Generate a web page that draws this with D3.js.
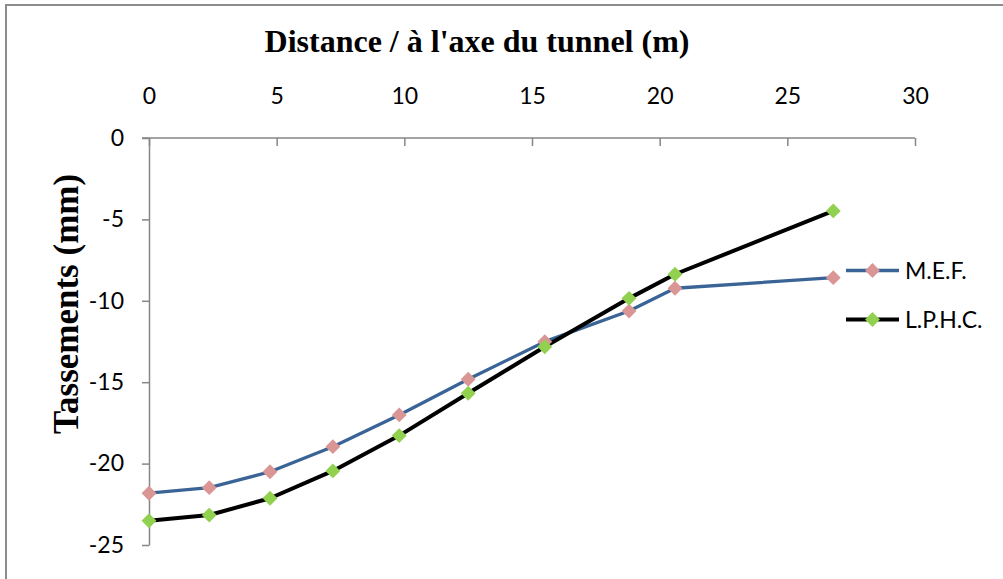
<!DOCTYPE html>
<html><head><meta charset="utf-8">
<script src="https://cdn.jsdelivr.net/npm/d3@7"></script>
<style>
html,body{margin:0;padding:0;background:#fff;}
svg{display:block;}
</style></head>
<body>
<script>
const distances = [0, 2.36, 4.74, 7.2, 9.8, 12.5, 15.5, 18.8, 20.6, 26.8];
const mefValues = [-21.82, -21.48, -20.5, -18.96, -17.01, -14.82, -12.51, -10.63, -9.23, -8.58];
const lphcValues = [-23.51, -23.16, -22.13, -20.45, -18.28, -15.68, -12.82, -9.85, -8.37, -4.48];
const seriesNames = ["M.E.F.", "L.P.H.C."];
const xTicks = [0, 5, 10, 15, 20, 25, 30];
const yTicks = [0, -5, -10, -15, -20, -25];
const xTitle = "Distance / à l'axe du tunnel (m)";
const yTitle = "Tassements (mm)";

const W = 1003, H = 579;
const svg = d3.select("body").append("svg").attr("width", W).attr("height", H);

// outer border
svg.append("rect").attr("x", 6).attr("y", 5).attr("width", 1100).attr("height", 700)
  .attr("fill", "none").attr("stroke", "#8c8c8c").attr("stroke-width", 2);

const x = d3.scaleLinear().domain([0, 30]).range([149, 915]);
const y = d3.scaleLinear().domain([-25, 0]).range([545, 138]);

const axisColor = "#868686";
const tickFont = "Lato, 'Open Sans', sans-serif";
const fmt = d => String(d).replace("\u2212", "-");

// X axis on top (at y=0)
const xAxis = d3.axisTop(x).tickValues(xTicks).tickSizeInner(-8).tickSizeOuter(0).tickPadding(34)
  .tickFormat(fmt);
const gx = svg.append("g").attr("transform", `translate(0,${y(0)})`).call(xAxis);
gx.select(".domain").remove();
gx.selectAll(".tick line").attr("stroke", axisColor).attr("stroke-width", 1.5);
gx.selectAll(".tick text").attr("fill", "#000").style("font-family", tickFont).style("font-size", "23px");
svg.append("line").attr("x1", x(0) - 7).attr("x2", x(30)).attr("y1", y(0)).attr("y2", y(0))
  .attr("stroke", axisColor).attr("stroke-width", 1.5);

// Y axis
const yAxis = d3.axisLeft(y).tickValues(yTicks).tickSizeInner(7).tickSizeOuter(0).tickPadding(18)
  .tickFormat(fmt);
const gy = svg.append("g").attr("transform", `translate(${x(0)},0)`).call(yAxis);
gy.select(".domain").attr("stroke", axisColor).attr("stroke-width", 1.5);
gy.selectAll(".tick line").attr("stroke", axisColor).attr("stroke-width", 1.5);
gy.selectAll(".tick text").attr("fill", "#000").style("font-family", tickFont).style("font-size", "23px");

// Titles
svg.append("text").attr("x", 477).attr("y", 52).attr("text-anchor", "middle")
  .style("font-family", "'Liberation Serif', 'Times New Roman', serif").style("font-weight", "bold")
  .style("font-size", "32px").text(xTitle);
svg.append("text").attr("transform", `translate(78,304) rotate(-90)`).attr("text-anchor", "middle")
  .style("font-family", "'Liberation Serif', 'Times New Roman', serif").style("font-weight", "bold")
  .style("font-size", "35px").text(yTitle);

// Series
const series = [
  {name: seriesNames[0], values: mefValues, line: "#3b6496", marker: "#d99694", width: 3.3},
  {name: seriesNames[1], values: lphcValues, line: "#000000", marker: "#92d050", width: 4}
];
const line = d3.line().x(d => x(d[0])).y(d => y(d[1]));
const marker = d3.symbol().type(d3.symbolSquare).size(110);

series.forEach(s => {
  const pts = distances.map((d, i) => [d, s.values[i]]);
  svg.append("path").datum(pts).attr("d", line).attr("fill", "none")
    .attr("stroke", s.line).attr("stroke-width", s.width).attr("stroke-linejoin", "round");
});
series.forEach(s => {
  const pts = distances.map((d, i) => [d, s.values[i]]);
  svg.append("g").selectAll("path").data(pts).join("path")
    .attr("transform", d => `translate(${x(d[0])},${y(d[1])}) rotate(45)`)
    .attr("d", marker).attr("fill", s.marker);
});

// Legend
const legY = [270.5, 319.5];
series.forEach((s, i) => {
  const g = svg.append("g").attr("transform", `translate(846,${legY[i]})`);
  g.append("line").attr("x1", 0).attr("x2", 53).attr("y1", 0).attr("y2", 0)
    .attr("stroke", s.line).attr("stroke-width", s.width);
  g.append("path").attr("transform", "translate(26.5,0) rotate(45)")
    .attr("d", marker).attr("fill", s.marker);
  g.append("text").attr("x", 59).attr("y", 8.5).style("font-family", tickFont)
    .style("font-size", "23px").attr("fill", "#000").text(s.name);
});
</script>
</body></html>
